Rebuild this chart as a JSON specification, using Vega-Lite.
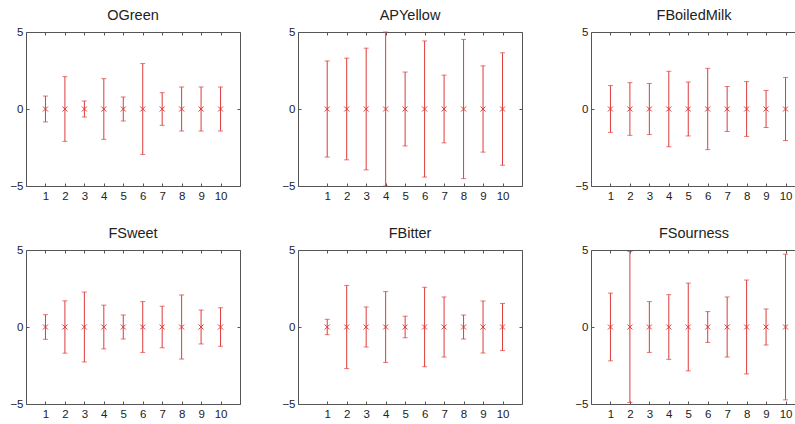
{
  "$schema": "https://vega.github.io/schema/vega-lite/v6.json",
  "padding": {"left": 6, "top": 7, "right": 0, "bottom": 0},
  "background": "white",
  "data": {"values": [
    {"p": "OGreen", "x": 1, "m": 0, "lo": -0.84, "hi": 0.84},
    {"p": "OGreen", "x": 2, "m": 0, "lo": -2.1, "hi": 2.1},
    {"p": "OGreen", "x": 3, "m": 0, "lo": -0.52, "hi": 0.52},
    {"p": "OGreen", "x": 4, "m": 0, "lo": -1.97, "hi": 1.97},
    {"p": "OGreen", "x": 5, "m": 0, "lo": -0.78, "hi": 0.78},
    {"p": "OGreen", "x": 6, "m": 0, "lo": -2.95, "hi": 2.95},
    {"p": "OGreen", "x": 7, "m": 0, "lo": -1.06, "hi": 1.06},
    {"p": "OGreen", "x": 8, "m": 0, "lo": -1.43, "hi": 1.43},
    {"p": "OGreen", "x": 9, "m": 0, "lo": -1.43, "hi": 1.43},
    {"p": "OGreen", "x": 10, "m": 0, "lo": -1.43, "hi": 1.43},
    {"p": "APYellow", "x": 1, "m": 0, "lo": -3.12, "hi": 3.12},
    {"p": "APYellow", "x": 2, "m": 0, "lo": -3.3, "hi": 3.3},
    {"p": "APYellow", "x": 3, "m": 0, "lo": -3.95, "hi": 3.95},
    {"p": "APYellow", "x": 4, "m": 0, "lo": -5.0, "hi": 5.0},
    {"p": "APYellow", "x": 5, "m": 0, "lo": -2.4, "hi": 2.4},
    {"p": "APYellow", "x": 6, "m": 0, "lo": -4.42, "hi": 4.42},
    {"p": "APYellow", "x": 7, "m": 0, "lo": -2.2, "hi": 2.2},
    {"p": "APYellow", "x": 8, "m": 0, "lo": -4.52, "hi": 4.52},
    {"p": "APYellow", "x": 9, "m": 0, "lo": -2.8, "hi": 2.8},
    {"p": "APYellow", "x": 10, "m": 0, "lo": -3.65, "hi": 3.65},
    {"p": "FBoiledMilk", "x": 1, "m": 0, "lo": -1.52, "hi": 1.52},
    {"p": "FBoiledMilk", "x": 2, "m": 0, "lo": -1.71, "hi": 1.71},
    {"p": "FBoiledMilk", "x": 3, "m": 0, "lo": -1.66, "hi": 1.66},
    {"p": "FBoiledMilk", "x": 4, "m": 0, "lo": -2.45, "hi": 2.45},
    {"p": "FBoiledMilk", "x": 5, "m": 0, "lo": -1.75, "hi": 1.75},
    {"p": "FBoiledMilk", "x": 6, "m": 0, "lo": -2.64, "hi": 2.64},
    {"p": "FBoiledMilk", "x": 7, "m": 0, "lo": -1.46, "hi": 1.46},
    {"p": "FBoiledMilk", "x": 8, "m": 0, "lo": -1.78, "hi": 1.78},
    {"p": "FBoiledMilk", "x": 9, "m": 0, "lo": -1.2, "hi": 1.2},
    {"p": "FBoiledMilk", "x": 10, "m": 0, "lo": -2.05, "hi": 2.05},
    {"p": "FSweet", "x": 1, "m": 0, "lo": -0.8, "hi": 0.8},
    {"p": "FSweet", "x": 2, "m": 0, "lo": -1.7, "hi": 1.7},
    {"p": "FSweet", "x": 3, "m": 0, "lo": -2.27, "hi": 2.27},
    {"p": "FSweet", "x": 4, "m": 0, "lo": -1.42, "hi": 1.42},
    {"p": "FSweet", "x": 5, "m": 0, "lo": -0.78, "hi": 0.78},
    {"p": "FSweet", "x": 6, "m": 0, "lo": -1.65, "hi": 1.65},
    {"p": "FSweet", "x": 7, "m": 0, "lo": -1.35, "hi": 1.35},
    {"p": "FSweet", "x": 8, "m": 0, "lo": -2.08, "hi": 2.08},
    {"p": "FSweet", "x": 9, "m": 0, "lo": -1.1, "hi": 1.1},
    {"p": "FSweet", "x": 10, "m": 0, "lo": -1.25, "hi": 1.25},
    {"p": "FBitter", "x": 1, "m": 0, "lo": -0.5, "hi": 0.5},
    {"p": "FBitter", "x": 2, "m": 0, "lo": -2.7, "hi": 2.7},
    {"p": "FBitter", "x": 3, "m": 0, "lo": -1.3, "hi": 1.3},
    {"p": "FBitter", "x": 4, "m": 0, "lo": -2.3, "hi": 2.3},
    {"p": "FBitter", "x": 5, "m": 0, "lo": -0.7, "hi": 0.7},
    {"p": "FBitter", "x": 6, "m": 0, "lo": -2.58, "hi": 2.58},
    {"p": "FBitter", "x": 7, "m": 0, "lo": -1.95, "hi": 1.95},
    {"p": "FBitter", "x": 8, "m": 0, "lo": -0.78, "hi": 0.78},
    {"p": "FBitter", "x": 9, "m": 0, "lo": -1.69, "hi": 1.69},
    {"p": "FBitter", "x": 10, "m": 0, "lo": -1.53, "hi": 1.53},
    {"p": "FSourness", "x": 1, "m": 0, "lo": -2.2, "hi": 2.2},
    {"p": "FSourness", "x": 2, "m": 0, "lo": -4.9, "hi": 4.9},
    {"p": "FSourness", "x": 3, "m": 0, "lo": -1.65, "hi": 1.65},
    {"p": "FSourness", "x": 4, "m": 0, "lo": -2.1, "hi": 2.1},
    {"p": "FSourness", "x": 5, "m": 0, "lo": -2.85, "hi": 2.85},
    {"p": "FSourness", "x": 6, "m": 0, "lo": -1.0, "hi": 1.0},
    {"p": "FSourness", "x": 7, "m": 0, "lo": -1.95, "hi": 1.95},
    {"p": "FSourness", "x": 8, "m": 0, "lo": -3.05, "hi": 3.05},
    {"p": "FSourness", "x": 9, "m": 0, "lo": -1.17, "hi": 1.17},
    {"p": "FSourness", "x": 10, "m": 0, "lo": -4.73, "hi": 4.73}
  ]},
  "spacing": 23,
  "vconcat": [
    {"spacing": 37, "align": "none", "hconcat": [
      {"title": "OGreen", "width": 214, "height": 154,
       "transform": [{"filter": "datum.p === 'OGreen'"}],
       "layer": [
        {"mark": {"type": "errorbar", "color": "#dd3b3b", "thickness": 1, "ticks": {"size": 5, "thickness": 1, "color": "#dd3b3b"}},
         "encoding": {
          "x": {"field": "x", "type": "quantitative", "scale": {"domain": [0, 11], "nice": false, "zero": false}, "axis": {"orient": "bottom", "values": [1,2,3,4,5,6,7,8,9,10], "title": null}},
          "y": {"field": "lo", "type": "quantitative", "scale": {"domain": [-5, 5], "nice": false}, "axis": {"orient": "left", "values": [-5,0,5], "title": null, "minExtent": 20}},
          "y2": {"field": "hi"}}},
        {"mark": {"type": "point", "shape": "M-1,-1L1,1M1,-1L-1,1", "size": 25, "filled": false, "color": "#dd3b3b", "strokeWidth": 1, "opacity": 1},
         "encoding": {
          "x": {"field": "x", "type": "quantitative", "axis": {"orient": "top", "values": [1,2,3,4,5,6,7,8,9,10], "labels": false, "title": null}},
          "y": {"field": "m", "type": "quantitative", "axis": {"orient": "right", "values": [-5,0,5], "labels": false, "title": null}}}}
       ],
       "resolve": {"axis": {"x": "independent", "y": "independent"}}},
      {"title": "APYellow", "width": 224, "height": 154,
       "transform": [{"filter": "datum.p === 'APYellow'"}],
       "layer": [
        {"mark": {"type": "errorbar", "color": "#dd3b3b", "thickness": 1, "ticks": {"size": 5, "thickness": 1, "color": "#dd3b3b"}},
         "encoding": {
          "x": {"field": "x", "type": "quantitative", "scale": {"domain": [-0.5, 11], "nice": false, "zero": false}, "axis": {"orient": "bottom", "values": [1,2,3,4,5,6,7,8,9,10], "title": null}},
          "y": {"field": "lo", "type": "quantitative", "scale": {"domain": [-5, 5], "nice": false}, "axis": {"orient": "left", "values": [-5,0,5], "title": null, "minExtent": 20}},
          "y2": {"field": "hi"}}},
        {"mark": {"type": "point", "shape": "M-1,-1L1,1M1,-1L-1,1", "size": 25, "filled": false, "color": "#dd3b3b", "strokeWidth": 1, "opacity": 1},
         "encoding": {
          "x": {"field": "x", "type": "quantitative", "axis": {"orient": "top", "values": [1,2,3,4,5,6,7,8,9,10], "labels": false, "title": null}},
          "y": {"field": "m", "type": "quantitative", "axis": {"orient": "right", "values": [-5,0,5], "labels": false, "title": null}}}}
       ],
       "resolve": {"axis": {"x": "independent", "y": "independent"}}},
      {"title": "FBoiledMilk", "width": 206, "height": 154,
       "transform": [{"filter": "datum.p === 'FBoiledMilk'"}],
       "layer": [
        {"mark": {"type": "errorbar", "color": "#dd3b3b", "thickness": 1, "ticks": {"size": 5, "thickness": 1, "color": "#dd3b3b"}},
         "encoding": {
          "x": {"field": "x", "type": "quantitative", "scale": {"domain": [0, 10.59], "nice": false, "zero": false}, "axis": {"orient": "bottom", "values": [1,2,3,4,5,6,7,8,9,10], "title": null}},
          "y": {"field": "lo", "type": "quantitative", "scale": {"domain": [-5, 5], "nice": false}, "axis": {"orient": "left", "values": [-5,0,5], "title": null, "minExtent": 31}},
          "y2": {"field": "hi"}}},
        {"mark": {"type": "point", "shape": "M-1,-1L1,1M1,-1L-1,1", "size": 25, "filled": false, "color": "#dd3b3b", "strokeWidth": 1, "opacity": 1},
         "encoding": {
          "x": {"field": "x", "type": "quantitative", "axis": {"orient": "top", "values": [1,2,3,4,5,6,7,8,9,10], "labels": false, "title": null}},
          "y": {"field": "m", "type": "quantitative", "axis": null}}}
       ],
       "resolve": {"axis": {"x": "independent", "y": "independent"}}}
    ]},
    {"spacing": 37, "align": "none", "hconcat": [
      {"title": "FSweet", "width": 214, "height": 154,
       "transform": [{"filter": "datum.p === 'FSweet'"}],
       "layer": [
        {"mark": {"type": "errorbar", "color": "#dd3b3b", "thickness": 1, "ticks": {"size": 5, "thickness": 1, "color": "#dd3b3b"}},
         "encoding": {
          "x": {"field": "x", "type": "quantitative", "scale": {"domain": [0, 11], "nice": false, "zero": false}, "axis": {"orient": "bottom", "values": [1,2,3,4,5,6,7,8,9,10], "title": null}},
          "y": {"field": "lo", "type": "quantitative", "scale": {"domain": [-5, 5], "nice": false}, "axis": {"orient": "left", "values": [-5,0,5], "title": null, "minExtent": 20}},
          "y2": {"field": "hi"}}},
        {"mark": {"type": "point", "shape": "M-1,-1L1,1M1,-1L-1,1", "size": 25, "filled": false, "color": "#dd3b3b", "strokeWidth": 1, "opacity": 1},
         "encoding": {
          "x": {"field": "x", "type": "quantitative", "axis": {"orient": "top", "values": [1,2,3,4,5,6,7,8,9,10], "labels": false, "title": null}},
          "y": {"field": "m", "type": "quantitative", "axis": {"orient": "right", "values": [-5,0,5], "labels": false, "title": null}}}}
       ],
       "resolve": {"axis": {"x": "independent", "y": "independent"}}},
      {"title": "FBitter", "width": 224, "height": 154,
       "transform": [{"filter": "datum.p === 'FBitter'"}],
       "layer": [
        {"mark": {"type": "errorbar", "color": "#dd3b3b", "thickness": 1, "ticks": {"size": 5, "thickness": 1, "color": "#dd3b3b"}},
         "encoding": {
          "x": {"field": "x", "type": "quantitative", "scale": {"domain": [-0.5, 11], "nice": false, "zero": false}, "axis": {"orient": "bottom", "values": [1,2,3,4,5,6,7,8,9,10], "title": null}},
          "y": {"field": "lo", "type": "quantitative", "scale": {"domain": [-5, 5], "nice": false}, "axis": {"orient": "left", "values": [-5,0,5], "title": null, "minExtent": 20}},
          "y2": {"field": "hi"}}},
        {"mark": {"type": "point", "shape": "M-1,-1L1,1M1,-1L-1,1", "size": 25, "filled": false, "color": "#dd3b3b", "strokeWidth": 1, "opacity": 1},
         "encoding": {
          "x": {"field": "x", "type": "quantitative", "axis": {"orient": "top", "values": [1,2,3,4,5,6,7,8,9,10], "labels": false, "title": null}},
          "y": {"field": "m", "type": "quantitative", "axis": {"orient": "right", "values": [-5,0,5], "labels": false, "title": null}}}}
       ],
       "resolve": {"axis": {"x": "independent", "y": "independent"}}},
      {"title": "FSourness", "width": 206, "height": 154,
       "transform": [{"filter": "datum.p === 'FSourness'"}],
       "layer": [
        {"mark": {"type": "errorbar", "color": "#dd3b3b", "thickness": 1, "ticks": {"size": 5, "thickness": 1, "color": "#dd3b3b"}},
         "encoding": {
          "x": {"field": "x", "type": "quantitative", "scale": {"domain": [0, 10.59], "nice": false, "zero": false}, "axis": {"orient": "bottom", "values": [1,2,3,4,5,6,7,8,9,10], "title": null}},
          "y": {"field": "lo", "type": "quantitative", "scale": {"domain": [-5, 5], "nice": false}, "axis": {"orient": "left", "values": [-5,0,5], "title": null, "minExtent": 31}},
          "y2": {"field": "hi"}}},
        {"mark": {"type": "point", "shape": "M-1,-1L1,1M1,-1L-1,1", "size": 25, "filled": false, "color": "#dd3b3b", "strokeWidth": 1, "opacity": 1},
         "encoding": {
          "x": {"field": "x", "type": "quantitative", "axis": {"orient": "top", "values": [1,2,3,4,5,6,7,8,9,10], "labels": false, "title": null}},
          "y": {"field": "m", "type": "quantitative", "axis": null}}}
       ],
       "resolve": {"axis": {"x": "independent", "y": "independent"}}}
    ]}
  ],
  "config": {
    "view": {"stroke": null},
    "axis": {"domain": true, "domainColor": "#555", "domainWidth": 1, "tickColor": "#555", "tickSize": -3, "ticks": true, "grid": false, "labelFont": "Liberation Sans", "labelFontSize": 11.5, "labelColor": "#222"},
    "axisX": {"labelPadding": 7},
    "axisY": {"labelPadding": 6},
    "title": {"font": "Liberation Sans", "fontSize": 14.5, "fontWeight": "normal", "color": "#222", "offset": 3}
  }
}
